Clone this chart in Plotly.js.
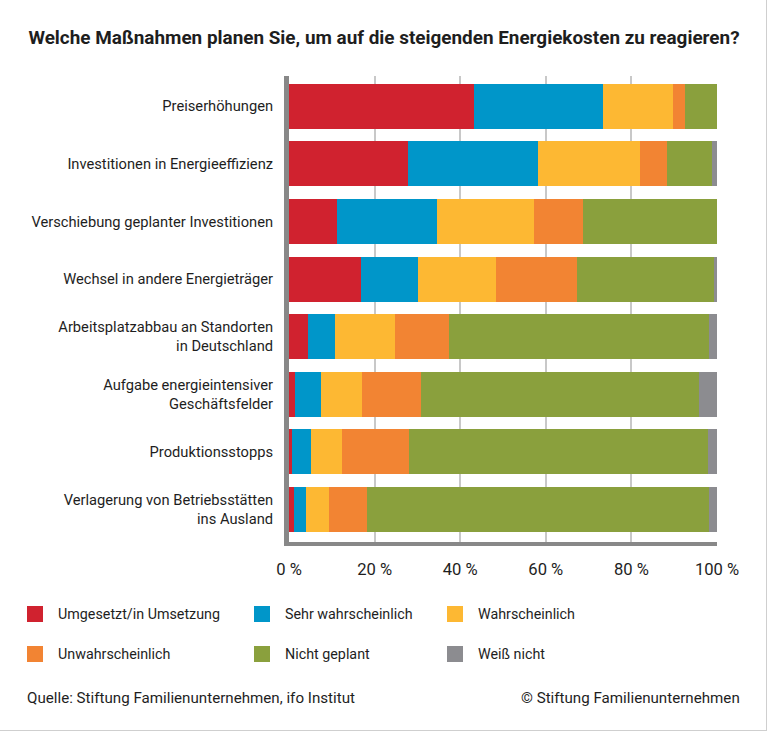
<!DOCTYPE html>
<html>
<head>
<meta charset="utf-8">
<script src="https://cdn.plot.ly/plotly-3.0.1.min.js"></script>
<style>
  html, body { margin: 0; padding: 0; background: #ffffff; }
  #chart { width: 768px; height: 732px; }
</style>
</head>
<body>
<div id="chart"></div>
<script>
// ---- data ----
const categories = [
  "Preiserhöhungen",
  "Investitionen in Energieeffizienz",
  "Verschiebung geplanter Investitionen",
  "Wechsel in andere Energieträger",
  "Arbeitsplatzabbau an Standorten<br>in Deutschland",
  "Aufgabe energieintensiver<br>Geschäftsfelder",
  "Produktionsstopps",
  "Verlagerung von Betriebsstätten<br>ins Ausland"
];
const seriesNames = [
  "Umgesetzt/in Umsetzung",
  "Sehr wahrscheinlich",
  "Wahrscheinlich",
  "Unwahrscheinlich",
  "Nicht geplant",
  "Weiß nicht"
];
const umgesetzt = [43.2, 27.8, 11.2, 16.8, 4.4, 1.5, 0.7, 1.2];
const sehrWahrscheinlich = [30.1, 30.3, 23.3, 13.3, 6.3, 6.0, 4.4, 2.8];
const wahrscheinlich = [16.5, 23.8, 22.7, 18.2, 14.0, 9.5, 7.3, 5.3];
const unwahrscheinlich = [2.8, 6.5, 11.6, 19.0, 12.7, 13.8, 15.6, 9.0];
const nichtGeplant = [7.4, 10.5, 31.2, 32.1, 60.7, 64.9, 69.8, 79.8];
const weissNicht = [0.0, 1.1, 0.0, 0.6, 1.9, 4.3, 2.2, 1.9];
const xTickValues = [0, 20, 40, 60, 80, 100];
const xTickLabels = ["0 %", "20 %", "40 %", "60 %", "80 %", "100 %"];
const titleText = "Welche Maßnahmen planen Sie, um auf die steigenden Energiekosten zu reagieren?";
const sourceText = "Quelle: Stiftung Familienunternehmen, ifo Institut";
const copyrightText = "© Stiftung Familienunternehmen";

// ---- styles ----
const colors = ["#d0222f", "#0096c9", "#fdb833", "#f28433", "#8aa03d", "#8c8c90"];
const FAMILY = "Roboto";
const FONT = "Roboto, 'Liberation Sans', Arial, sans-serif";
const TXT = "#1e1e1e";
const W = 768, H = 732;
const M = { l: 289, r: 51, t: 76, b: 190 };
const pw = W - M.l - M.r, ph = H - M.t - M.b;
const px2x = p => (p - M.l) / pw;
const px2y = p => (H - M.b - p) / ph;

// font size that gives a text the width it has in the reference
const cv = document.createElement("canvas").getContext("2d");
function fitSize(text, target, weight) {
  cv.font = (weight || "normal") + " 100px " + FONT;
  const w = cv.measureText(text).width;
  return Math.round(100 * target / w * 10) / 10;
}
const sTitle = fitSize(titleText, 712, "bold");
const sLabel = (fitSize("Arbeitsplatzabbau an Standorten", 216) + fitSize("Preiserhöhungen", 110)) / 2;
const sLegend = fitSize("Umgesetzt/in Umsetzung", 162);
const sSource = (fitSize(sourceText, 330) + fitSize(copyrightText, 218)) / 2;
const sTick = fitSize("20 %", 35);

const seriesValues = [umgesetzt, sehrWahrscheinlich, wahrscheinlich, unwahrscheinlich, nichtGeplant, weissNicht];

const traces = seriesValues.map((vals, i) => ({
  type: "bar",
  orientation: "h",
  name: seriesNames[i],
  y: categories,
  x: vals,
  width: 0.78,
  marker: { color: colors[i], line: { width: 0 } },
  hoverinfo: "x+name"
}));

// manual legend (3 columns x 2 rows)
const legendCols = [27, 254, 447];
const legendRows = [614, 654];
const shapes = [];
const annotations = [];
seriesNames.forEach((name, i) => {
  const c = i % 3, r = Math.floor(i / 3);
  const x0 = legendCols[c], yc = legendRows[r];
  shapes.push({
    type: "rect", xref: "paper", yref: "paper",
    x0: px2x(x0), x1: px2x(x0 + 16), y0: px2y(yc - 8), y1: px2y(yc + 8),
    fillcolor: colors[i], line: { width: 0 }
  });
  annotations.push({
    xref: "paper", yref: "paper", x: px2x(x0 + 29), y: px2y(yc),
    xanchor: "left", yanchor: "middle", showarrow: false,
    text: name, font: { family: FONT, size: sLegend, color: TXT }
  });
});
annotations.push({
  xref: "paper", yref: "paper", x: px2x(25), y: px2y(698),
  xanchor: "left", yanchor: "middle", showarrow: false,
  text: sourceText, font: { family: FONT, size: sSource, color: TXT }
});
annotations.push({
  xref: "paper", yref: "paper", x: px2x(742), y: px2y(698),
  xanchor: "right", yanchor: "middle", showarrow: false,
  text: copyrightText, font: { family: FONT, size: sSource, color: TXT }
});
// thin frame at right and bottom edge
shapes.push({ type: "line", xref: "paper", yref: "paper",
  x0: px2x(766.5), x1: px2x(766.5), y0: px2y(0), y1: px2y(730.5),
  line: { color: "#cfcfcf", width: 1 } });
shapes.push({ type: "line", xref: "paper", yref: "paper",
  x0: px2x(0), x1: px2x(767), y0: px2y(730.5), y1: px2y(730.5),
  line: { color: "#cfcfcf", width: 1 } });

const layout = {
  width: W, height: H,
  margin: M,
  paper_bgcolor: "#ffffff",
  plot_bgcolor: "#ffffff",
  barmode: "stack",
  showlegend: false,
  font: { family: FONT, size: sLabel, color: TXT },
  title: {
    text: titleText,
    font: { family: FONT, size: sTitle, color: TXT, weight: "bold" },
    x: 0.5, xref: "container", xanchor: "center",
    y: 1 - 37 / H, yref: "container", yanchor: "middle"
  },
  xaxis: {
    range: [0, 100],
    tickvals: xTickValues,
    ticktext: xTickLabels,
    showgrid: true,
    gridcolor: "#c8c8c8",
    gridwidth: 2,
    zeroline: false,
    showline: true,
    linecolor: "#888888",
    linewidth: 4,
    ticks: "",
    ticklabelstandoff: 9,
    tickfont: { family: FONT, size: sTick, color: TXT },
    fixedrange: true
  },
  yaxis: {
    type: "category",
    autorange: false,
    range: [7.564, -0.526],
    showgrid: false,
    zeroline: false,
    showline: true,
    linecolor: "#888888",
    linewidth: 5,
    ticks: "",
    ticklabelstandoff: 8,
    tickfont: { family: FONT, size: sLabel, color: TXT },
    fixedrange: true
  },
  shapes: shapes,
  annotations: annotations
};

Plotly.newPlot("chart", traces, layout, { displayModeBar: false, staticPlot: true });
</script>
</body>
</html>
